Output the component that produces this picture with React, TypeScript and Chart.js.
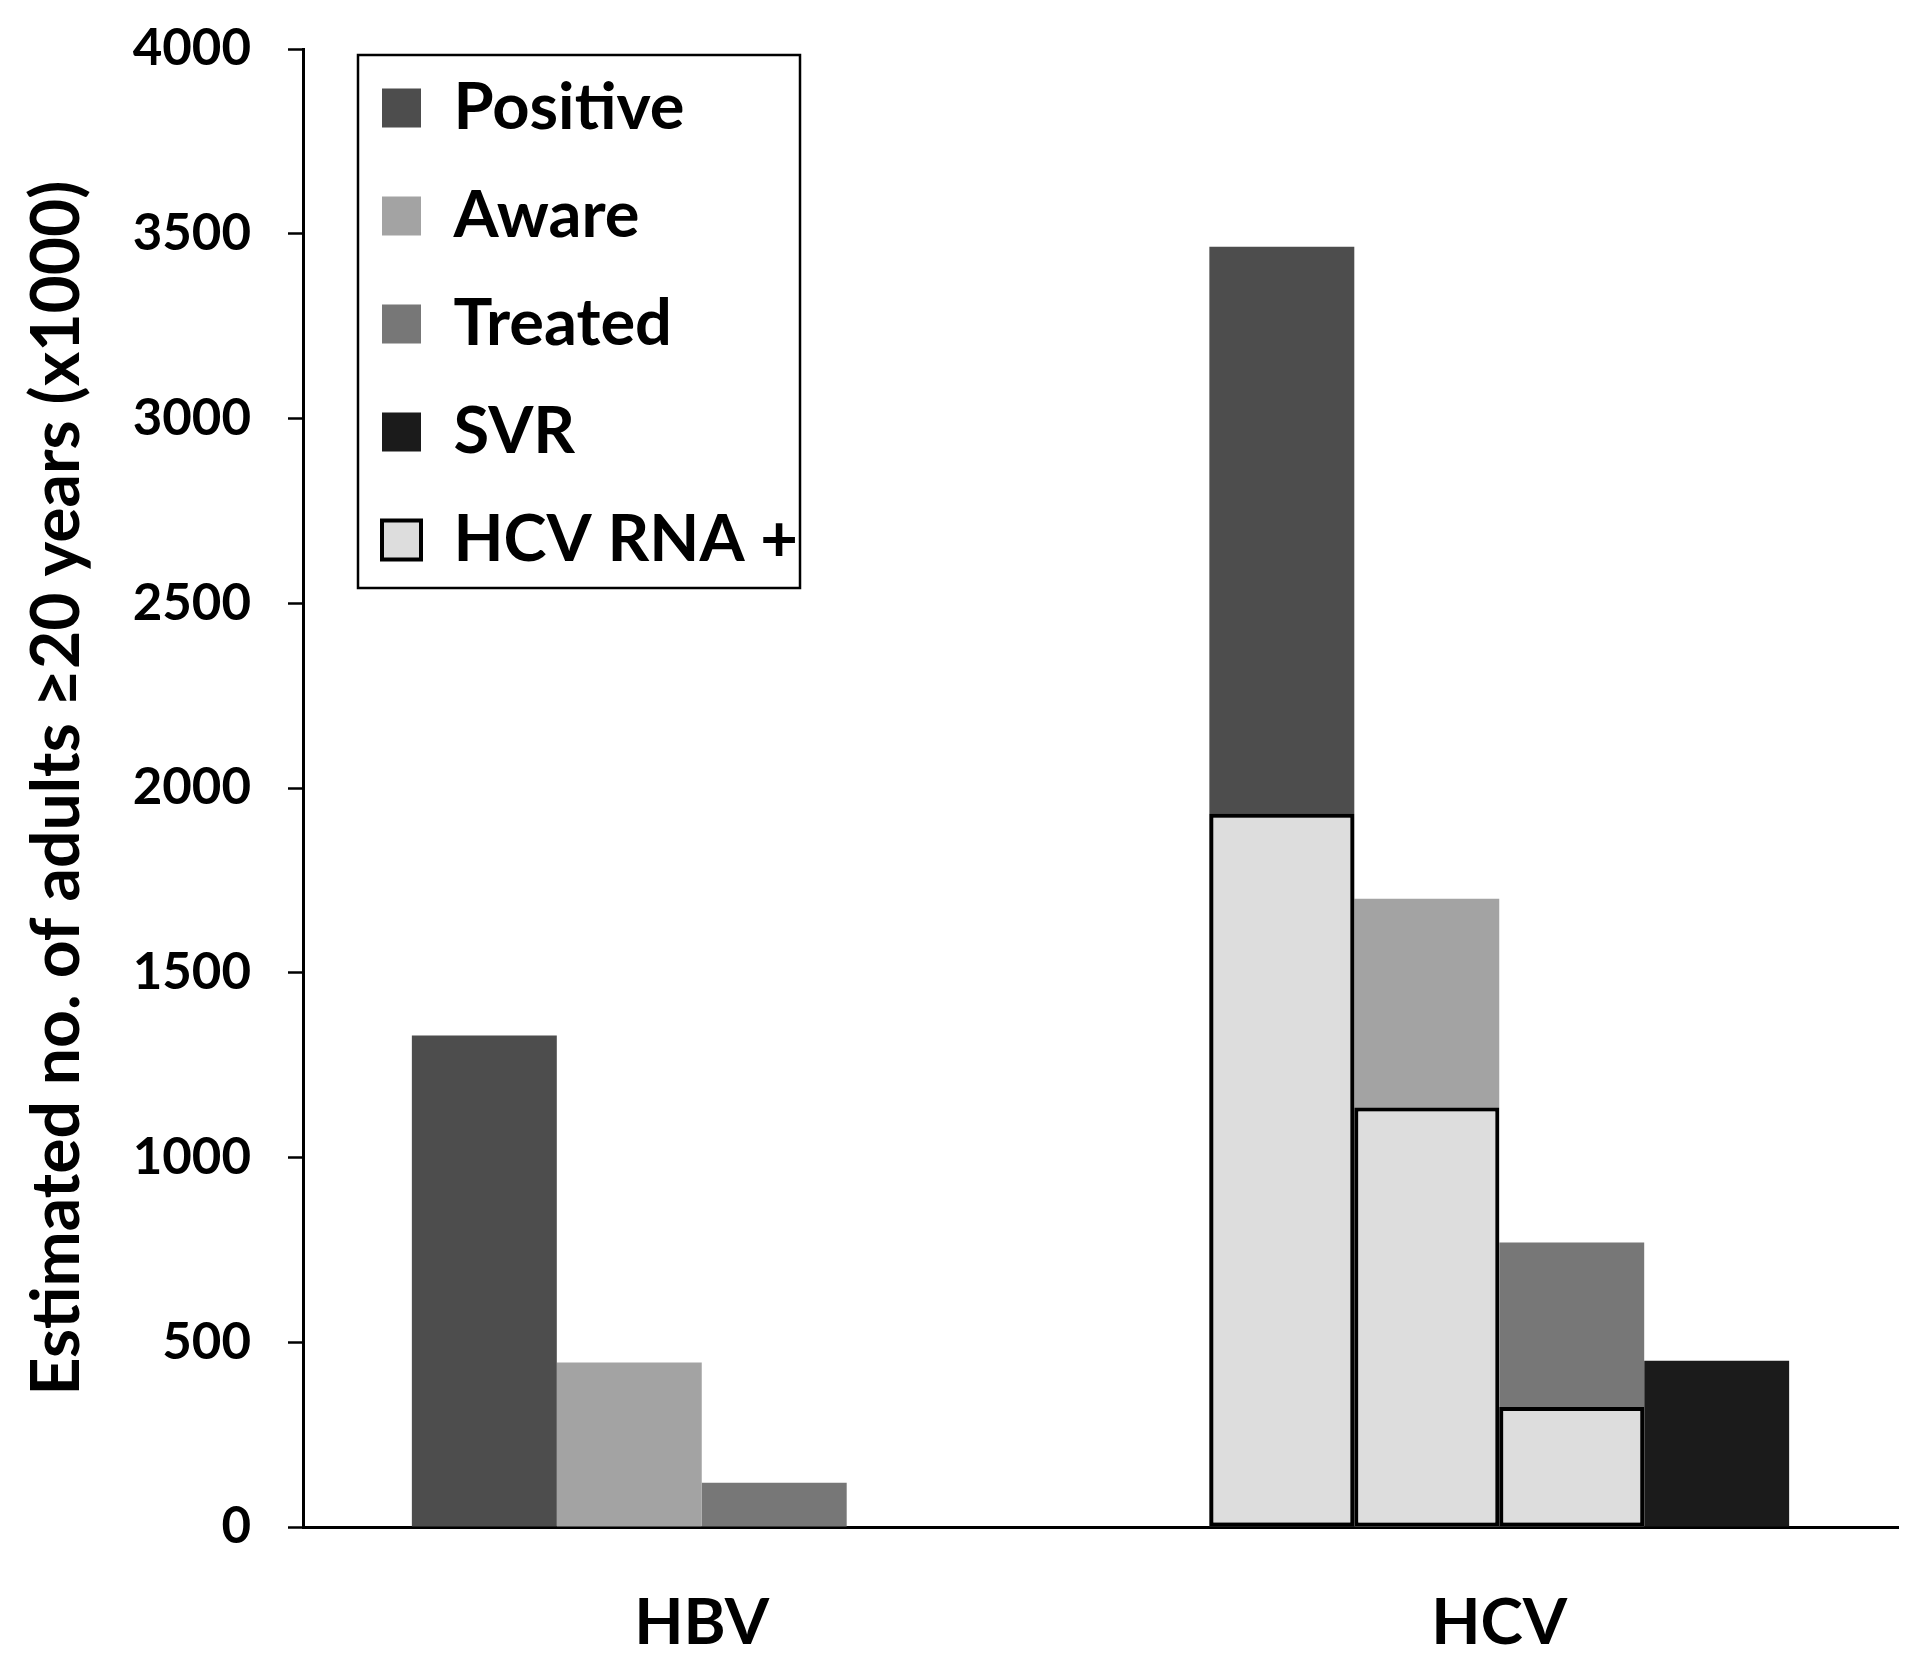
import React, { useEffect, useRef } from "react";
import { Chart, registerables } from "chart.js";

Chart.register(...registerables);

// ---- data ----
const categories = ["HBV", "HCV"];
const seriesLabels = ["Positive", "Aware", "Treated", "SVR", "HCV RNA +"];
const positiveValues = [1330, 3465];
const awareValues = [445, 1700];
const treatedValues = [120, 770];
const svrValues: (number | null)[] = [null, 450];
// HCV RNA + portion shown inside the Positive / Aware / Treated bars
const rnaPositiveValues: (number | null)[] = [null, 1930];
const rnaAwareValues: (number | null)[] = [null, 1135];
const rnaTreatedValues: (number | null)[] = [null, 325];
const yTickValues = [0, 500, 1000, 1500, 2000, 2500, 3000, 3500, 4000];
const yTitle = "Estimated no. of adults \u226520 years (x1000)";

// ---- styling ----
const FONT = "Lato, 'Open Sans', 'DejaVu Sans', sans-serif";
const COLORS = {
  positive: "#4d4d4d",
  aware: "#a3a3a3",
  treated: "#777777",
  svr: "#1b1b1b",
  rna: "#dddddd",
};
const LEG_FONT = 65;
const LEG_PAD = 43;
const LEG_BOX = 39;

const legendPlacePlugin = {
  id: "legendPlace",
  afterLayout(chart: any) {
    const lg = chart.legend;
    if (!lg) return;
    const ca = chart.chartArea;
    const left = ca.left + 79 - LEG_PAD;
    const top = ca.top + 59 - LEG_FONT / 2 - LEG_PAD;
    lg.left = left;
    lg.top = top;
    lg.right = left + lg.width;
    lg.height = 700;
    lg.bottom = top + 700;
  },
  afterDraw(chart: any) {
    const ca = chart.chartArea;
    const ctx = chart.ctx;
    ctx.save();
    ctx.strokeStyle = "#000";
    ctx.lineWidth = 2.5;
    ctx.strokeRect(ca.left + 55, ca.top + 6, 442, 533);
    ctx.restore();
  },
};

const rnaStyle = {
  backgroundColor: COLORS.rna,
  borderColor: "#000",
  borderWidth: 4,
  borderSkipped: false as const,
  order: 0,
};

export default function App() {
  const ref = useRef<HTMLCanvasElement>(null);

  useEffect(() => {
    document.body.style.margin = "0";
    const canvas = ref.current;
    if (!canvas) return;
    const chart = new Chart(canvas, {
      type: "bar",
      data: {
        labels: categories,
        datasets: [
          { label: seriesLabels[0], data: positiveValues, backgroundColor: COLORS.positive, borderWidth: 0, stack: "positive", order: 1 },
          { label: seriesLabels[1], data: awareValues, backgroundColor: COLORS.aware, borderWidth: 0, stack: "aware", order: 1 },
          { label: seriesLabels[2], data: treatedValues, backgroundColor: COLORS.treated, borderWidth: 0, stack: "treated", order: 1 },
          { label: seriesLabels[3], data: svrValues, backgroundColor: COLORS.svr, borderWidth: 0, stack: "svr", order: 1 },
          { label: seriesLabels[4], data: rnaPositiveValues, stack: "positive", ...rnaStyle },
          { label: seriesLabels[4], data: rnaAwareValues, stack: "aware", ...rnaStyle },
          { label: seriesLabels[4], data: rnaTreatedValues, stack: "treated", ...rnaStyle },
        ] as any,
      },
      options: {
        responsive: false,
        animation: false,
        devicePixelRatio: 1,
        layout: { padding: { left: 0, top: 49, right: 22, bottom: 0 } },
        datasets: {
          bar: { categoryPercentage: 0.727, barPercentage: 1.0 },
        },
        plugins: {
          tooltip: { enabled: false },
          legend: {
            display: true,
            position: "chartArea" as any,
            align: "start",
            labels: {
              color: "#000",
              font: { family: FONT, size: LEG_FONT, weight: "bold" },
              boxWidth: LEG_BOX,
              boxHeight: LEG_BOX,
              padding: LEG_PAD,
              filter: (item: any) => item.datasetIndex <= 4,
              sort: (a: any, b: any) => a.datasetIndex - b.datasetIndex,
            },
          },
        },
        scales: {
          x: {
            grid: { display: false },
            border: { display: true, color: "#000", width: 3 },
            ticks: {
              color: "#000",
              font: { family: FONT, size: 64, weight: "bold" },
              padding: 50,
            },
            afterFit: (s: any) => {
              s.height = 143;
            },
          },
          y: {
            stacked: false,
            min: 0,
            max: 4000,
            afterBuildTicks: (s: any) => {
              s.ticks = yTickValues.map((v) => ({ value: v }));
            },
            grid: {
              display: true,
              drawOnChartArea: false,
              drawTicks: true,
              tickLength: 15,
              tickWidth: 2.5,
              tickColor: "#000",
            },
            border: { display: true, color: "#000", width: 3 },
            ticks: {
              color: "#000",
              font: { family: FONT, size: 51, weight: "bold" },
              padding: 37,
              callback: (v: any) => String(v),
            },
            title: {
              display: true,
              text: yTitle,
              color: "#000",
              font: { family: FONT, size: 66, weight: "bold" },
              padding: { top: 18, bottom: 0 },
            },
            afterFit: (s: any) => {
              s.width = 303;
              s.paddingTop = 0;
              s.paddingBottom = 0;
            },
          },
        },
      } as any,
      plugins: [legendPlacePlugin],
    });
    return () => chart.destroy();
  }, []);

  return (
    <div style={{ width: 1920, height: 1670, background: "#fff" }}>
      <canvas ref={ref} width={1920} height={1670} style={{ display: "block" }} />
    </div>
  );
}
